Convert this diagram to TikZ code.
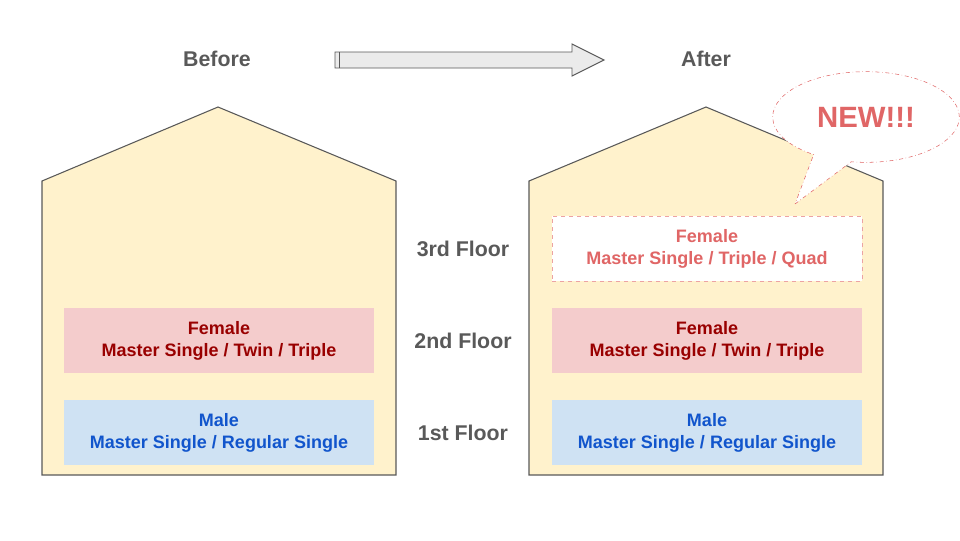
\documentclass[tikz,border=0pt]{standalone}
\usepackage{fontspec}
\setmainfont{Liberation Sans}
\usetikzlibrary{shapes.callouts}
\definecolor{housef}{HTML}{FFF2CC}
\definecolor{lin}{HTML}{595959}
\definecolor{pinkf}{HTML}{F4CCCC}
\definecolor{pinkt}{HTML}{990000}
\definecolor{bluef}{HTML}{CFE2F3}
\definecolor{bluet}{HTML}{1155CC}
\definecolor{newr}{HTML}{E06666}
\begin{document}
\begin{tikzpicture}[x=0.75pt,y=-0.75pt,
 house/.style={fill=housef,draw=lin,line width=0.8pt},
 room/.style={minimum width=232.5pt,minimum height=48.75pt,inner sep=0pt,align=center,font=\bfseries\fontsize{13.5}{16.5}\selectfont},
 fem/.style={room,fill=pinkf,text=pinkt},
 mal/.style={room,fill=bluef,text=bluet},
 lab/.style={text=lin,font=\bfseries\fontsize{16}{19}\selectfont}]
\useasboundingbox (0,0) rectangle (960,540);
\draw[house] (42,475) -- (42,181) -- (218,107) -- (396,181) -- (396,475) -- cycle;
\draw[house] (529,475) -- (529,181) -- (706,107) -- (883,181) -- (883,475) -- cycle;
\node[fem] (lf) at (219,340.5) {Female\\Master Single / Twin / Triple};
\node[mal] (lm) at (219,432.5) {Male\\Master Single / Regular Single};
\node[room,fill=white,draw=newr!60,dashed,text=newr] (r3) at (707,248.5) {Female\\Master Single / Triple / Quad};
\node[fem] (rf) at (707,340.5) {Female\\Master Single / Twin / Triple};
\node[mal] (rm) at (707,432.5) {Male\\Master Single / Regular Single};
\node[lab] (before) at (217,59) {Before};
\node[lab] (after) at (706,59) {After};
\node[lab] (f3) at (463,249) {3rd Floor};
\node[lab] (f2) at (463,341) {2nd Floor};
\node[lab] (f1) at (463,433) {1st Floor};
\draw[lin,fill=black!8,line width=0.7pt] (335,52) -- (572,52) -- (572,44) -- (604,60) -- (572,76) -- (572,68) -- (335,68) -- cycle;
\draw[lin,line width=0.6pt] (339,52) -- (339,68);
\node[ellipse callout,draw=newr,dash dot,fill=white,minimum width=140pt,minimum height=68pt,callout pointer arc=25,callout absolute pointer={(795,204)},text=newr,font=\bfseries\fontsize{22}{25}\selectfont] (new) at (866,117) {NEW!!!};
\end{tikzpicture}
\end{document}
